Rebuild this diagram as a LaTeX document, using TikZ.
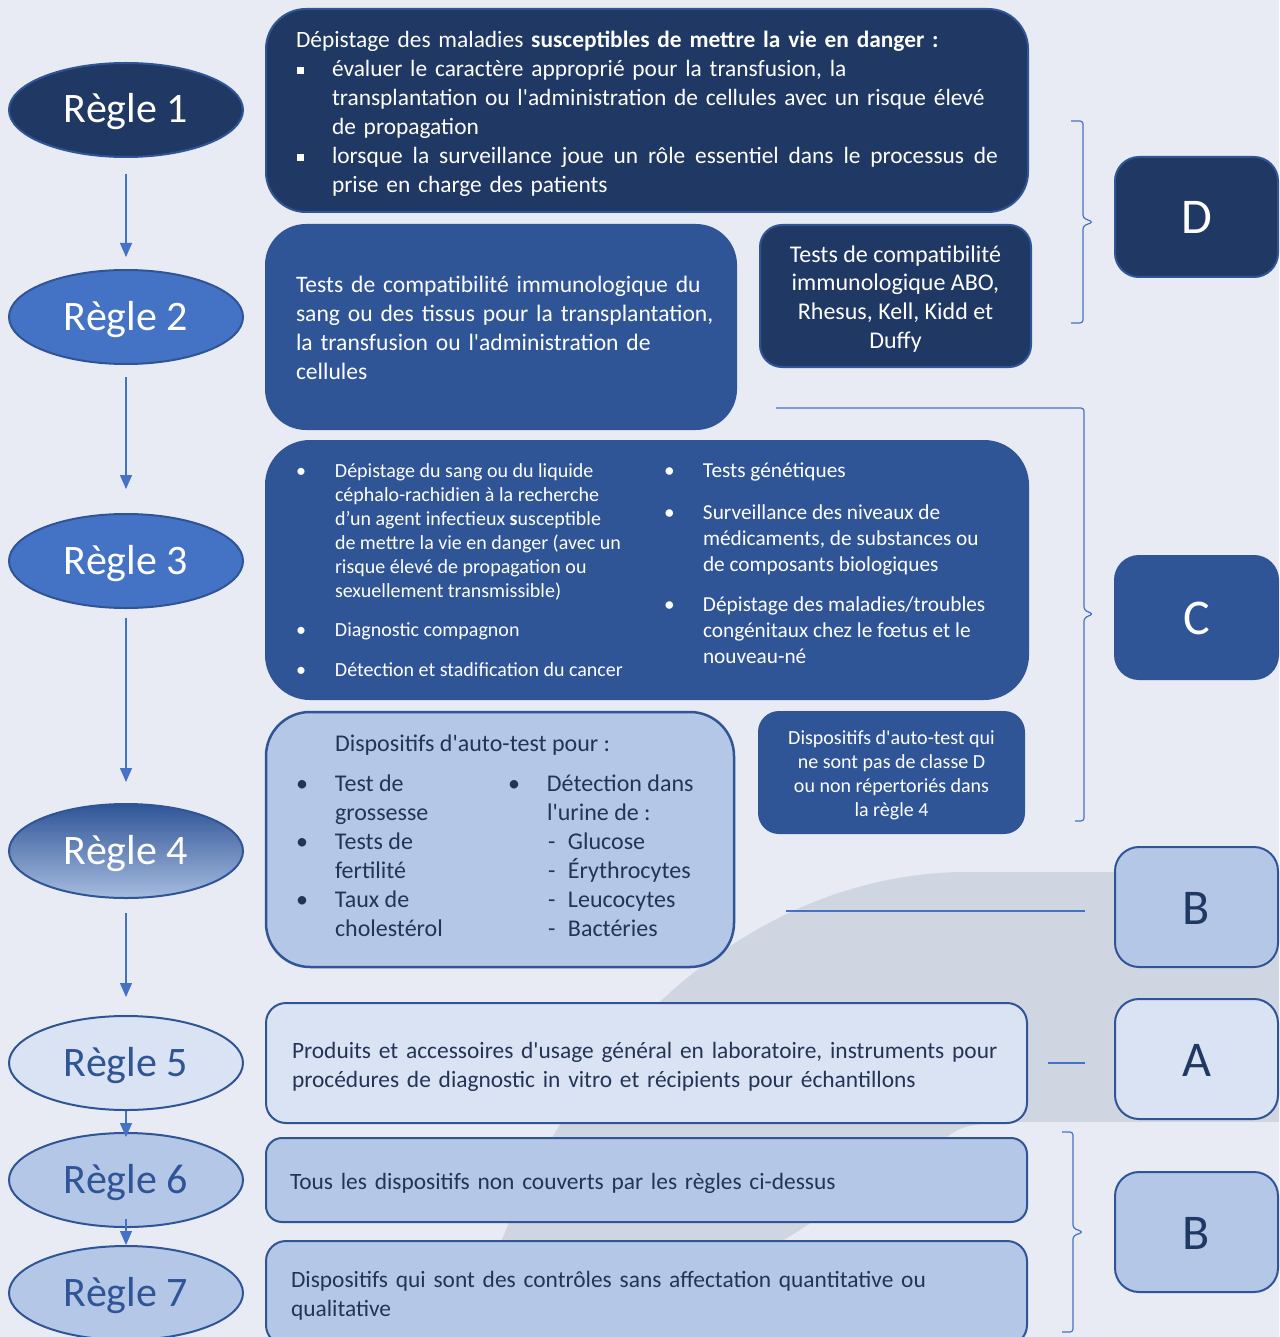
\documentclass[tikz,border=0pt]{standalone}
\usepackage{fontspec}
\setmainfont{Carlito}[Ligatures=TeXOff]
\usetikzlibrary{positioning, shapes.geometric, arrows.meta}

\definecolor{pagebg}{RGB}{232,235,243}
\definecolor{blobgrey}{RGB}{208,214,225}
\definecolor{navy}{RGB}{32,56,100}
\definecolor{midblue}{RGB}{47,85,151}
\definecolor{ellblue}{RGB}{68,114,196}
\definecolor{lightblue}{RGB}{180,199,231}
\definecolor{paleblue}{RGB}{218,227,243}
\definecolor{linkblue}{RGB}{68,114,196}
\definecolor{darktext}{RGB}{36,52,86}

\newcommand{\fsz}[2]{\fontsize{#1pt}{#2pt}\selectfont}
\newcommand{\sqbul}{\makebox[36pt][l]{\hspace*{1pt}\raisebox{3pt}{\rule{6.5pt}{6.5pt}}}}
\newcommand{\rdbul}{\makebox[39pt][l]{•}}
\newcommand{\bulskip}{\hspace*{39pt}}

\begin{document}
\begin{tikzpicture}[x=1pt, y=-1pt,
  regle/.style={ellipse, minimum width=234pt, minimum height=94pt, inner sep=0pt,
    line width=2pt, draw=midblue, font=\fsz{42}{50}, text height=26pt, text depth=0pt},
  panel/.style={rectangle, rounded corners=#1, line width=2pt},
  panel/.default=40pt,
  paneltext/.style={inner sep=0pt, align=left, font=\fsz{23.4}{28.9}},
  classbox/.style={rectangle, rounded corners=24pt, line width=2pt, draw=midblue,
    minimum width=163pt, minimum height=120pt, font=\fsz{50}{60}, text height=34pt, text depth=0pt},
  flow/.style={draw=linkblue, line width=1.2pt, -{Triangle[length=14pt, width=12pt]}},
  link/.style={draw=linkblue, line width=1.2pt, rounded corners=3pt}
]
\useasboundingbox (0,0) rectangle (1279,1337);
\clip (0,0) rectangle (1279,1337);

% background and grey blob
\fill[pagebg] (0,0) rectangle (1279,1337);
\fill[blobgrey] (1279,872) -- (967,872) .. controls (750,872) and (545,1050) .. (470,1337) -- (1279,1337) -- cycle;
\fill[pagebg] (1279,1122) -- (1040,1122) .. controls (990,1122) and (970,1124) .. (958,1130) -- (631,1337) -- (1279,1337) -- cycle;

% Rules
\node[regle, fill=navy, text=white] (r1) at (126,110) {Règle 1};
\node[regle, fill=ellblue, text=white] (r2) at (126,317) {Règle 2};
\node[regle, fill=ellblue, text=white] (r3) at (126,561) {Règle 3};
\node[regle, top color=midblue, bottom color=lightblue!90!midblue, text=white] (r4) at (126,851) {Règle 4};
\node[regle, fill=paleblue, text=midblue] (r5) at (126,1063) {Règle 5};
\node[regle, fill=lightblue, text=midblue] (r6) at (126,1180) {Règle 6};
\node[regle, fill=lightblue, text=midblue] (r7) at (126,1293) {Règle 7};

\foreach \a/\b/\s/\e in {r1/r2/16/12, r2/r3/12/24, r3/r4/9/21, r4/r5/14/18, r5/r6/0/-5, r6/r7/-9/0} {
    \draw[flow, shorten <=\s pt, shorten >=\e pt] (\a.south) -- (\b.north);
}

% Rule 1
\node[panel, fill=navy, draw=midblue, minimum width=762pt, minimum height=203pt] (p1) at (647,110.5) {};
\node[paneltext, text=white, text width=702pt] (t1) at ([yshift=-3.5pt]p1.center) {%
  Dépistage des maladies \textbf{susceptibles de mettre la vie en danger :}\\
  \sqbul évaluer le caractère approprié pour la transfusion, la\\
  \bulskip\hspace*{-3pt}\mbox{transplantation ou l'administration de cellules avec un risque élevé}\\
  \bulskip\hspace*{-3pt}de propagation\\
  \sqbul\hbox to 666pt{lorsque\hfill la\hfill surveillance\hfill joue\hfill un\hfill rôle\hfill essentiel\hfill dans\hfill le\hfill processus\hfill de}\\
  \bulskip\hspace*{-3pt}prise en charge des patients};

% Rule 2
\node[panel, fill=midblue, draw=midblue, minimum width=470pt, minimum height=204pt] (p2) at (501,327) {};
\node[paneltext, text=white, text width=410pt, font=\fsz{23.6}{28.9}] (t2) at ([yshift=-1pt]p2.center) {%
  \mbox{Tests de compatibilité immunologique du}\\
  \mbox{sang ou des tissus pour la transplantation,}\\
  la transfusion ou l'administration de\\
  cellules};
\node[panel=22pt, fill=navy, draw=midblue, minimum width=271pt, minimum height=142pt] (p2b) at (895.5,296) {};
\node[paneltext, text=white, align=center, font=\fsz{24}{28.9}] (t2b) at ([yshift=-3pt]p2b.center) {%
  Tests de compatibilité\\immunologique ABO,\\Rhesus, Kell, Kidd et\\Duffy};

% Rule 3
\node[panel=44pt, fill=midblue, draw=midblue, minimum width=762pt, minimum height=258pt] (p3) at (647,570) {};
\node[inner sep=0pt, text=white] (t3) at (p3.center) {%
  \hspace*{30pt}\begin{minipage}[t]{368pt}\fsz{20}{24}%
  \rdbul Dépistage du sang ou du liquide\\
  \bulskip céphalo-rachidien à la recherche\\
  \bulskip d’un agent infectieux \textbf{s}usceptible\\
  \bulskip de mettre la vie en danger (avec un\\
  \bulskip risque élevé de propagation ou\\
  \bulskip sexuellement transmissible)\\[15pt]
  \rdbul Diagnostic compagnon\\[16pt]
  \rdbul Détection et stadification du cancer
  \end{minipage}%
  \begin{minipage}[t]{364pt}\fsz{21.3}{26}%
  \rdbul Tests génétiques\\[16pt]
  \rdbul Surveillance des niveaux de\\
  \bulskip médicaments, de substances ou\\
  \bulskip de composants biologiques\\[14pt]
  \rdbul Dépistage des maladies/troubles\\
  \bulskip congénitaux chez le fœtus et le\\
  \bulskip nouveau-né
  \end{minipage}};

% Rule 4
\node[panel=44pt, fill=lightblue, draw=midblue, line width=2.5pt, minimum width=468pt,
  minimum height=255pt] (p4) at (500,839.5) {};
\node[inner sep=0pt, text=darktext] (t4) at ([yshift=4pt]p4.center) {%
  \hspace*{30pt}\begin{minipage}[t]{432pt}\fsz{24}{28.9}%
  \bulskip Dispositifs d'auto-test pour :\\[12pt]
  \begin{minipage}[t]{212pt}%
  \rdbul Test de\\ \bulskip grossesse\\
  \rdbul Tests de\\ \bulskip fertilité\\
  \rdbul Taux de\\ \bulskip cholestérol
  \end{minipage}%
  \begin{minipage}[t]{220pt}%
  \rdbul Détection dans\\ \bulskip l'urine de :\\
  \hspace*{40pt}\makebox[20pt][l]{-}Glucose\\
  \hspace*{40pt}\makebox[20pt][l]{-}Érythrocytes\\
  \hspace*{40pt}\makebox[20pt][l]{-}Leucocytes\\
  \hspace*{40pt}\makebox[20pt][l]{-}Bactéries
  \end{minipage}
  \end{minipage}\hspace*{6pt}};
\node[panel=20pt, fill=midblue, draw=midblue, minimum width=265pt, minimum height=121pt] (p4b) at (891.5,772.5) {};
\node[paneltext, text=white, align=center, font=\fsz{20}{24}] (t4b) at ([yshift=-3pt]p4b.center) {%
  Dispositifs d'auto-test qui\\ne sont pas de classe D\\ou non répertoriés dans\\la règle 4};

% Rules 5 to 7
\node[panel=20pt, fill=paleblue, draw=midblue, minimum width=761pt, minimum height=120pt] (p5) at (646.5,1063) {};
\node[paneltext, text=darktext, text width=709pt] (t5) at ([yshift=-4pt]p5.center) {%
  \mbox{Produits et accessoires d'usage général en laboratoire, instruments pour}\\
  procédures de diagnostic in vitro et récipients pour échantillons};
\node[panel=16pt, fill=lightblue, draw=midblue, minimum width=761pt, minimum height=84pt] (p6) at (646.5,1180) {};
\node[paneltext, text=darktext, text width=713pt] (t6) at ([yshift=-3pt]p6.center) {%
  Tous les dispositifs non couverts par les règles ci-dessus};
\node[panel=20pt, fill=lightblue, draw=midblue, minimum width=761pt, minimum height=104pt] (p7) at (646.5,1293) {};
\node[paneltext, text=darktext, text width=711pt] (t7) at ([yshift=-2.5pt]p7.center) {%
  \mbox{Dispositifs qui sont des contrôles sans affectation quantitative ou}\\
  qualitative};

% Classes
\node[classbox, fill=navy, text=white] (cD) at (1196.5,217) {D};
\node[classbox, fill=midblue, text=white, minimum height=123pt] (cC) at (1196.5,617.5) {C};
\node[classbox, fill=lightblue, text=navy] (cB) at (1196.5,907) {B};
\node[classbox, fill=paleblue, text=navy] (cA) at (1196.5,1059) {A};
\node[classbox, fill=lightblue, text=navy] (cBb) at (1196.5,1232) {B};

% Brackets towards the classes
\draw[link] (1071,121) -- (1083,121) -- (1083,218) -- (1093,222) -- (1083,226) -- (1083,323) -- (1071,323);
\draw[link] (776,408) -- (1084,408) -- (1084,610) -- (1093,614) -- (1084,618) -- (1084,821) -- (1075,821);
\draw[link] (786,911) -- (1085,911);
\draw[link] ([xshift=20pt]p5.east) -- (1085,1063);
\draw[link] (1062,1132) -- (1073,1132) -- (1073,1228) -- (1083,1232) -- (1073,1236) -- (1073,1332) -- (1062,1332);

\end{tikzpicture}
\end{document}
